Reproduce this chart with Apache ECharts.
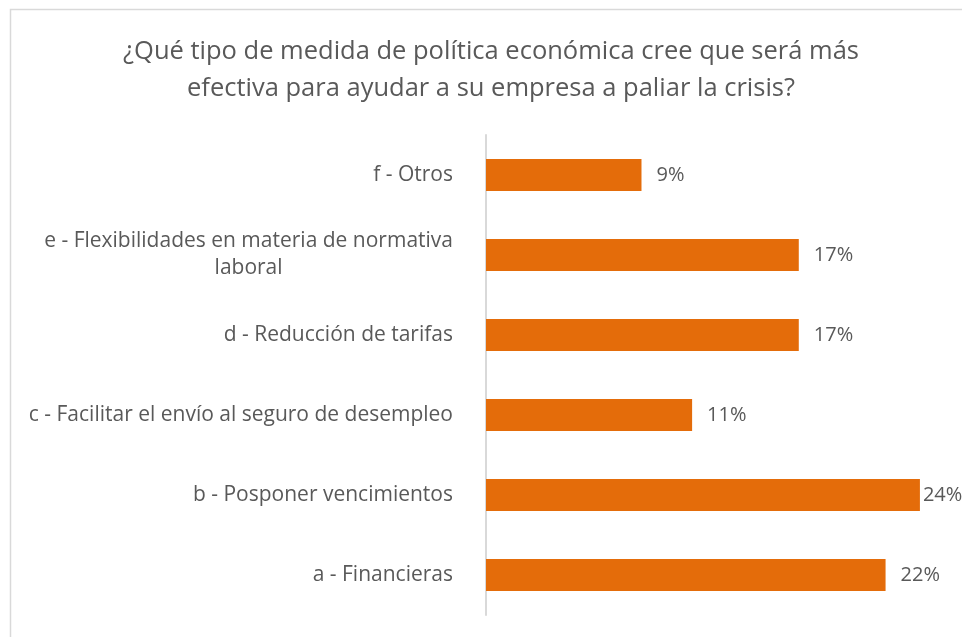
<!DOCTYPE html>
<html>
<head>
<meta charset="utf-8">
<script src="https://cdn.jsdelivr.net/npm/echarts@6/dist/echarts.min.js"></script>
<style>
  html, body { margin: 0; padding: 0; background: #fff; }
  #chart { width: 962px; height: 637px; }
</style>
</head>
<body>
<div id="chart"></div>
<script>
// categories from bottom to top (a at bottom)
var categories = [
  'a - Financieras',
  'b - Posponer vencimientos',
  'c - Facilitar el envío al seguro de desempleo',
  'd - Reducción de tarifas',
  'e - Flexibilidades en materia de normativa\nlaboral',
  'f - Otros'
];
var values = [22.1, 24.0, 11.4, 17.3, 17.3, 8.6];

var chart = echarts.init(document.getElementById('chart'));

var option = {
  backgroundColor: '#fff',
  textStyle: { fontFamily: 'Open Sans' },
  graphic: [{
    type: 'rect',
    shape: { x: 10.5, y: 9.5, width: 1000, height: 700 },
    style: { fill: 'none', stroke: '#d9d9d9', lineWidth: 1.5 },
    silent: true
  }],
  title: {
    text: '¿Qué tipo de medida de política económica cree que será más\nefectiva para ayudar a su empresa a paliar la crisis?',
    left: 486,
    top: 28,
    textAlign: 'center',
    textStyle: {
      fontFamily: 'Open Sans',
      fontSize: 25.5,
      fontWeight: 'normal',
      color: '#595959',
      lineHeight: 37
    }
  },
  grid: { left: 486, top: 135, width: 452, height: 480 },
  xAxis: {
    type: 'value',
    min: 0,
    max: 25,
    show: false,
    splitLine: { show: false }
  },
  yAxis: {
    type: 'category',
    data: categories,
    axisLine: { show: true, lineStyle: { color: '#d9d9d9', width: 2 } },
    axisTick: { show: false },
    axisLabel: {
      margin: 33,
      fontSize: 21,
      color: '#595959',
      formatter: function (v) {
        if (v.indexOf('\n') >= 0) {
          var parts = v.split('\n');
          return '{t|' + parts[0] + '}\n{l|' + parts[1] + '}';
        }
        return v;
      },
      rich: {
        t: { fontSize: 21, color: '#595959', fontFamily: 'Open Sans', lineHeight: 27 },
        l: { fontSize: 21, color: '#595959', fontFamily: 'Open Sans', lineHeight: 27, align: 'center', width: 352 }
      }
    }
  },
  series: [{
    type: 'bar',
    data: values.map(function (v, i) {
      var d = { value: v };
      if (i === 1) d.label = { distance: 3 };
      return d;
    }),
    barWidth: 32,
    itemStyle: { color: '#E46C0A' },
    label: {
      show: true,
      position: 'right',
      distance: 15,
      fontSize: 20,
      color: '#595959',
      formatter: function (p) { return Math.round(p.value) + '%'; }
    }
  }]
};

chart.setOption(option);
</script>
</body>
</html>
